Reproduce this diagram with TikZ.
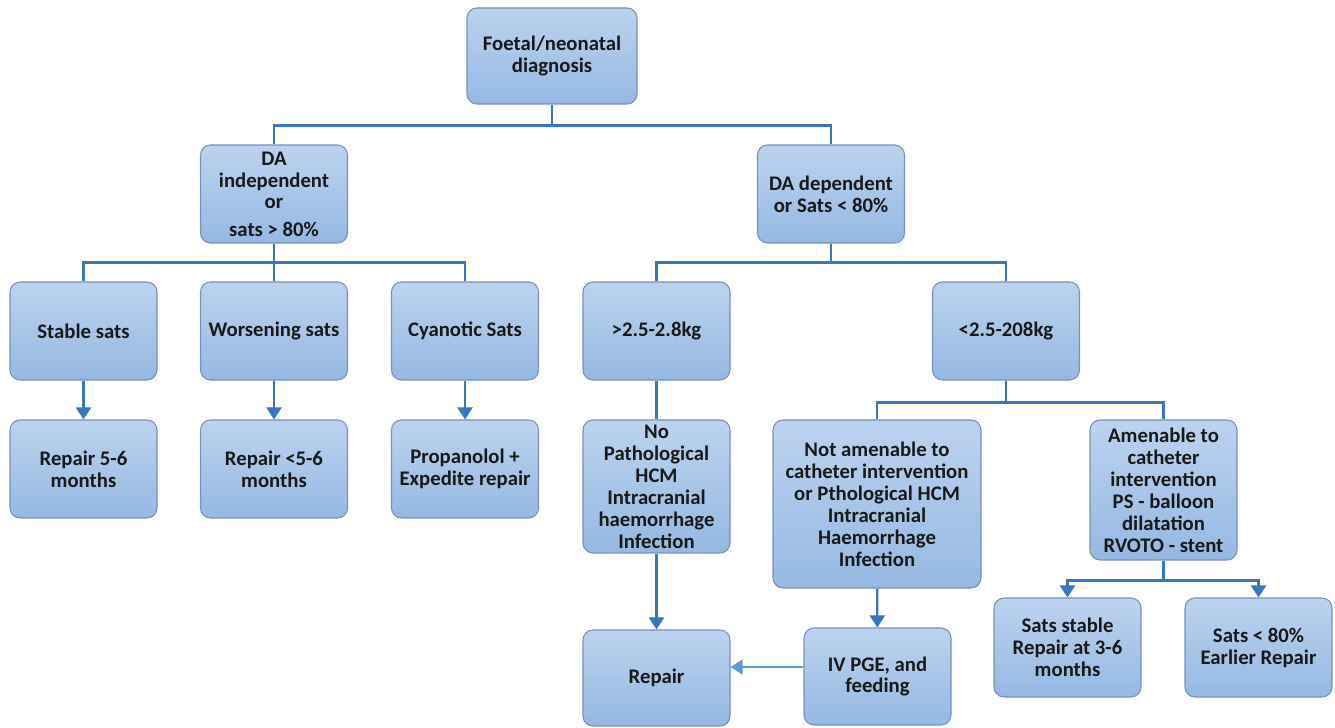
\documentclass[tikz,border=0pt]{standalone}
\usepackage{fontspec}
\setmainfont{Carlito}
\usepackage{xcolor}
\usepackage{tikz}
\usetikzlibrary{arrows.meta}

\definecolor{boxtop}{HTML}{BCD3EF}
\definecolor{boxbot}{HTML}{95B8E2}
\definecolor{boxline}{HTML}{7891BA}
\definecolor{linkblue}{HTML}{3777C0}
\definecolor{sideblue}{HTML}{5B9BD5}

\begin{document}
\begin{tikzpicture}[
    box/.style={rectangle, rounded corners=0.2cm, draw=boxline, line width=0.6pt, top color=boxtop, bottom color=boxbot, minimum width=2.94cm, minimum height=1.96cm, align=center, inner sep=2pt, font=\fontsize{11.8}{12.5}\selectfont\bfseries, text=black!90},
    link/.style={draw=linkblue, line width=1.3pt},
    arr/.style={link, -{Triangle[width=0.3cm, length=0.24cm]}},
    side/.style={draw=sideblue, line width=0.8pt, -{Triangle[width=0.3cm, length=0.24cm]}}
]

\useasboundingbox (0,0) rectangle (26.7,14.56);

\node[box, minimum width=3.4cm, minimum height=1.92cm] (root) at (11.04, 13.44) {Foetal/neonatal\\diagnosis};

\node[box] (indep) at (5.48, 10.68) {DA\\independent\\or\\[3pt]sats > 80\%};
\node[box] (dep) at (16.62, 10.68) {DA dependent\\or Sats < 80\%};

\node[box] (stable) at (1.67, 7.94) {Stable sats};
\node[box] (worse) at (5.48, 7.94) {Worsening sats};
\node[box] (cyan) at (9.30, 7.94) {Cyanotic Sats};
\node[box] (heavy) at (13.13, 7.94) {>2.5-2.8kg};
\node[box] (light) at (20.12, 7.94) {<2.5-208kg};

\node[box] (repairA) at (1.67, 5.18) {Repair 5-6\\months};
\node[box] (repairB) at (5.48, 5.18) {Repair <5-6\\months};
\node[box] (propan) at (9.30, 5.18) {Propanolol +\\Expedite repair};

\node[box, minimum height=2.66cm] (nopath) at (13.13, 4.83) {No\\Pathological\\HCM\\Intracranial\\haemorrhage\\Infection};
\node[box, minimum width=4.16cm, minimum height=3.36cm] (notamen) at (17.54, 4.48) {Not amenable to\\catheter intervention\\or Pthological HCM\\Intracranial\\Haemorrhage\\Infection};
\node[box, minimum height=2.8cm] (amen) at (23.27, 4.76) {Amenable to\\catheter\\intervention\\PS - balloon\\dilatation\\RVOTO - stent};

\node[box, minimum height=1.98cm] (satsok) at (21.35, 1.61) {Sats stable\\Repair at 3-6\\months};
\node[box, minimum height=1.98cm] (satslow) at (25.17, 1.61) {Sats < 80\%\\Earlier Repair};

\node[box, minimum height=1.92cm] (repair) at (13.13, 1.00) {Repair};
\node[box, minimum height=1.94cm] (ivpge) at (17.55, 1.03) {IV PGE, and\\feeding};

\draw[link] (root.south) -- ++(0,-0.42) -| (indep.north);
\draw[link] (root.south) -- ++(0,-0.42) -| (dep.north);

\draw[link] (indep.south) -- ++(0,-0.38) -| (stable.north);
\draw[link] (indep.south) -- (worse.north);
\draw[link] (indep.south) -- ++(0,-0.38) -| (cyan.north);

\draw[link] (dep.south) -- ++(0,-0.38) -| (heavy.north);
\draw[link] (dep.south) -- ++(0,-0.38) -| (light.north);

\draw[arr] (stable) -- (repairA);
\draw[arr] (worse) -- (repairB);
\draw[arr] (cyan) -- (propan);

\draw[link] (heavy) -- (nopath);
\draw[link] (light.south) -- ++(0,-0.44) -| (notamen.north);
\draw[link] (light.south) -- ++(0,-0.44) -| (amen.north);

\draw[arr] (nopath) -- (repair);
\draw[arr] (notamen) -- (ivpge);
\draw[side] (ivpge.west |- 0,1.22) -- (repair.east |- 0,1.22);

\draw[arr] (amen.south) -- ++(0,-0.4) -| (satsok.north);
\draw[arr] (amen.south) -- ++(0,-0.4) -| (satslow.north);

\end{tikzpicture}
\end{document}
